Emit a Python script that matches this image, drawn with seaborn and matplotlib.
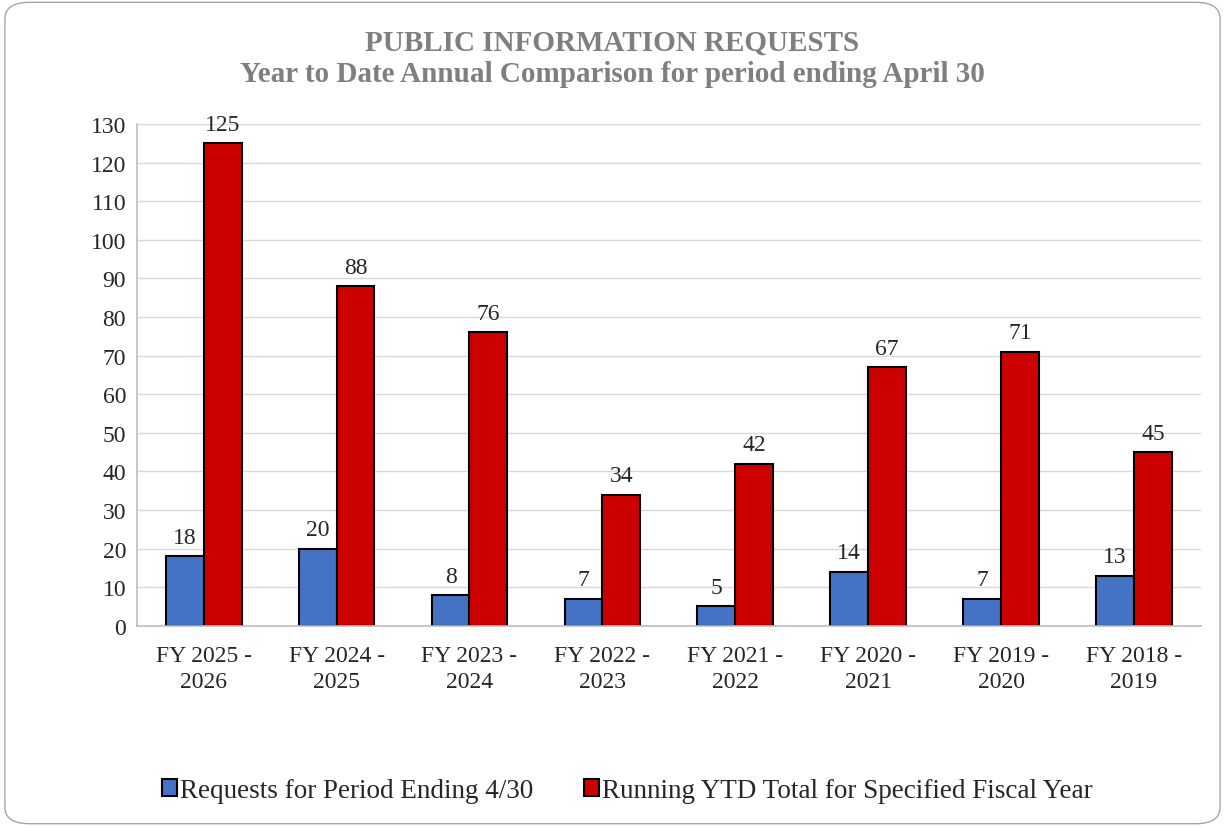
"""
Public information requests: year to date annual comparison bar chart.
"""

import pandas as pd
import seaborn as sns
from matplotlib import pyplot as plt
from matplotlib.patches import FancyBboxPatch

# Data
fiscal_years = ['FY 2025 -\n2026', 'FY 2024 -\n2025', 'FY 2023 -\n2024', 'FY 2022 -\n2023',
                'FY 2021 -\n2022', 'FY 2020 -\n2021', 'FY 2019 -\n2020', 'FY 2018 -\n2019']
period_requests = [18, 20, 8, 7, 5, 14, 7, 13]
ytd_totals = [125, 88, 76, 34, 42, 67, 71, 45]
series_names = ['Requests for Period Ending 4/30',
                'Running YTD Total for Specified Fiscal Year']
series_colors = ['#4472C4', '#CC0000']


def build_frame():
    """Long format table for seaborn."""
    rows = []
    for fy, a, b in zip(fiscal_years, period_requests, ytd_totals):
        rows.append({'year': fy, 'series': series_names[0], 'value': a})
        rows.append({'year': fy, 'series': series_names[1], 'value': b})
    return pd.DataFrame(rows)


def main():
    sns.set_style("white")
    plt.rcParams['font.family'] = ['Liberation Serif', 'DejaVu Serif']

    df = build_frame()

    fig = plt.figure(figsize=(12.25, 8.28), dpi=100)
    ax = fig.add_axes([0.112, 0.243, 0.868, 0.606])

    sns.barplot(data=df, x='year', y='value', hue='series', order=fiscal_years,
                hue_order=series_names, palette=series_colors, width=0.57,
                gap=0, edgecolor='black', linewidth=1.5, saturation=1,
                errorbar=None, ax=ax)

    for container in ax.containers:
        ax.bar_label(container, padding=6, fontsize=17)

    ax.set_ylim(0, 130)
    ax.set_yticks(range(0, 131, 10))
    ax.set_xlim(-0.5, len(fiscal_years) - 0.5)
    ax.yaxis.grid(True, color='#d9d9d9', linewidth=1)
    ax.set_axisbelow(True)
    ax.tick_params(axis='both', length=0, labelsize=17)
    ax.tick_params(axis='x', pad=14)
    ax.tick_params(axis='y', pad=8)
    for lbl in ax.get_xticklabels():
        lbl.set_linespacing(1.3)
    ax.set_xlabel('')
    ax.set_ylabel('')
    for side in ['top', 'right']:
        ax.spines[side].set_visible(False)
    for side in ['left', 'bottom']:
        ax.spines[side].set_color('#bfbfbf')
        ax.spines[side].set_linewidth(1.2)

    fig.text(0.5, 0.929, 'PUBLIC INFORMATION REQUESTS\nYear to Date Annual Comparison for period ending April 30',
             ha='center', va='center', fontsize=21, fontweight='bold',
             color='#7f7f7f', linespacing=1.22)

    handles, labels = ax.get_legend_handles_labels()
    ax.get_legend().remove()
    fig.legend(handles, labels, loc='center', bbox_to_anchor=(0.512, 0.044),
               ncol=2, frameon=False, fontsize=19.5, handlelength=0.55,
               handleheight=0.55, handletextpad=0.1, columnspacing=1.9)

    border = FancyBboxPatch((0.004, 0.004), 0.992, 0.992,
                            boxstyle='round,pad=0,rounding_size=0.02',
                            transform=fig.transFigure, facecolor='none',
                            edgecolor='#a6a6a6', linewidth=1)
    fig.patches.append(border)

    fig.savefig('out.png', dpi=100)


if __name__ == "__main__":
    main()
